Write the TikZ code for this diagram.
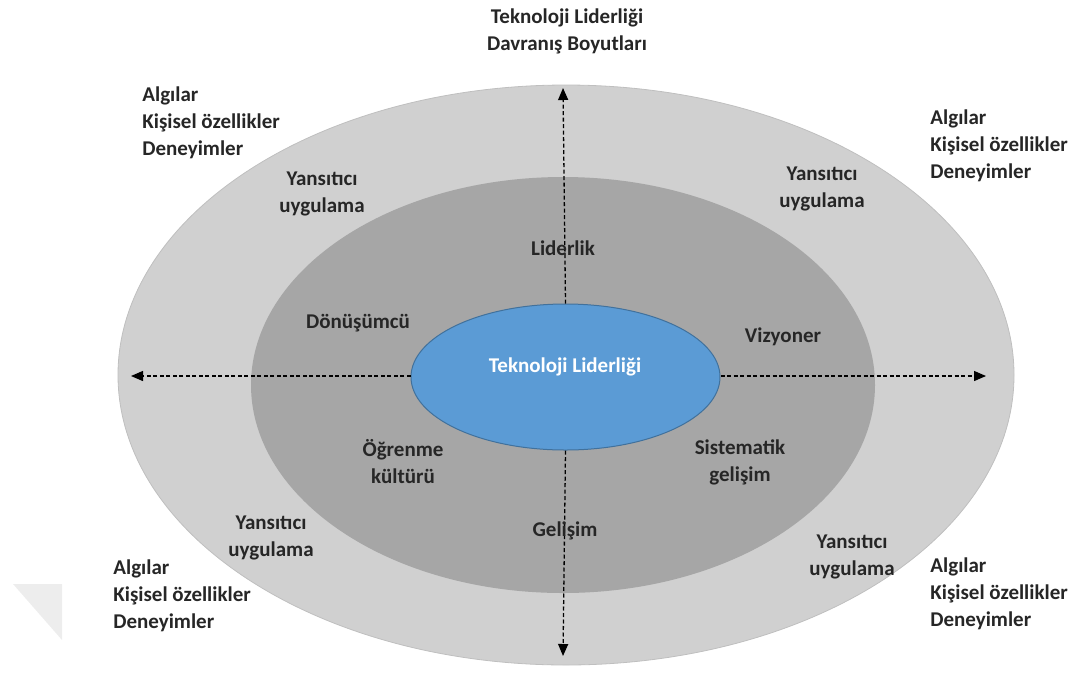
\documentclass[tikz,border=0pt]{standalone}
\usepackage{fontspec}
\setmainfont{Carlito}
\usetikzlibrary{arrows.meta}
\usetikzlibrary{shapes.geometric}

\definecolor{ringout}{HTML}{D0D0D0}
\definecolor{ringmid}{HTML}{A6A6A6}
\definecolor{coreblue}{HTML}{5B9BD5}
\definecolor{coreline}{HTML}{41719C}

\begin{document}
\begin{tikzpicture}[x=1pt,y=-1pt,thick,>={Triangle[length=12pt,width=10pt]},
    ring/.style={ellipse,inner sep=0pt},
    lbl/.style={font=\fontsize{21}{27}\selectfont\bfseries,align=center,inner sep=0pt,text=black!85},
    side/.style={lbl,align=left,anchor=west},
    axis/.style={->,dashed,dash pattern=on 4pt off 2.5pt,line width=1.3pt}]
      \useasboundingbox (0,0) rectangle (1075,673);
      \fill[black!7] (13,584) -- (62,584) -- (62,640) -- cycle;
      % rings
      \node (outer) [ring,draw=black!25,fill=ringout,minimum width=896,minimum height=580] at (566,375) {};
      \node (mid) [ring,fill=ringmid,minimum width=624,minimum height=416] at (563,385) {};
      \node (core) [ring,draw=coreline,fill=coreblue,line width=1pt,minimum width=309,minimum height=146] at (565.5,377) {};
      % axes
      \coordinate (N) at (563,88);
      \coordinate (S) at (563,656);
      \coordinate (W) at (131,376);
      \coordinate (E) at (986,376);
      \draw[axis] (core.north) -- (N);
      \draw[axis] (core.south) -- (S);
      \draw[axis] (core.west |- W) -- (W);
      \draw[axis] (core.east |- E) -- (E);
      % texts
      \node (title) [lbl] at (567,31) {Teknoloji Liderliği\\Davranış Boyutları};
      \node (coretext) [lbl,text=white] at (565,367) {Teknoloji Liderliği};
      \node (lider) [lbl] at (563,248) {Liderlik};
      \node (donus) [lbl] at (358,323) {Dönüşümcü};
      \node (vizyon) [lbl] at (783,337) {Vizyoner};
      \node (ogren) [lbl] at (403,462) {Öğrenme\\kültürü};
      \node (sistem) [lbl] at (740,462) {Sistematik\\gelişim};
      \node (gelis) [lbl] at (565,531) {Gelişim};
      \node (yansNW) [lbl] at (322,194) {Yansıtıcı\\uygulama};
      \node (yansNE) [lbl] at (822,189) {Yansıtıcı\\uygulama};
      \node (yansSW) [lbl] at (271,538) {Yansıtıcı\\uygulama};
      \node (yansSE) [lbl] at (852,557) {Yansıtıcı\\uygulama};
      \node (algNW) [side] at (142,123) {Algılar\\Kişisel özellikler\\Deneyimler};
      \node (algNE) [side] at (930,146) {Algılar\\Kişisel özellikler\\Deneyimler};
      \node (algSW) [side] at (113,596) {Algılar\\Kişisel özellikler\\Deneyimler};
      \node (algSE) [side] at (930,594) {Algılar\\Kişisel özellikler\\Deneyimler};
\end{tikzpicture}
\end{document}
